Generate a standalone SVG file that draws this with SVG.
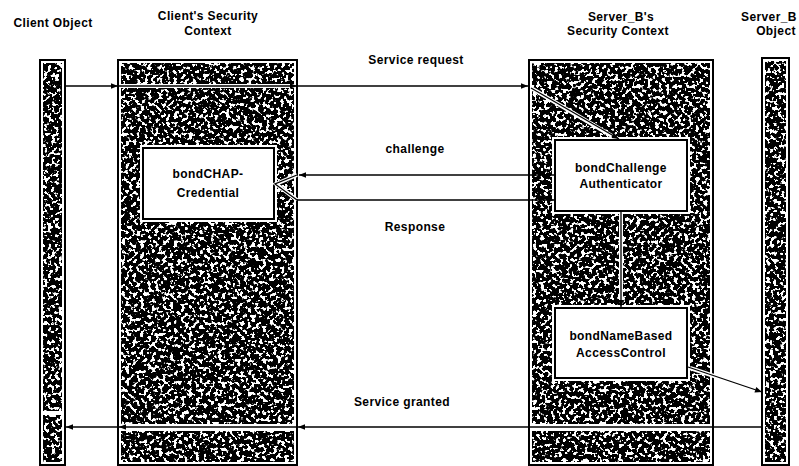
<svg xmlns="http://www.w3.org/2000/svg" width="799" height="466" viewBox="0 0 799 466">
  <style>
    .lbl{font-family:"Liberation Sans",Arial,sans-serif;font-size:12px;font-weight:bold;letter-spacing:0.4px;fill:#000;text-anchor:middle}
    .frame{fill:#fff;stroke:#000;stroke-width:2}
    .grain{fill:#000;filter:url(#grain)}
    .box{fill:#fff;stroke:#000;stroke-width:2}
    .boxhalo{fill:#fff;stroke:none}
    .halo{fill:none;stroke:#fff;stroke-width:4}
    .wire{fill:none;stroke:#000;stroke-width:1.3}
  </style>
  <defs>
    <!-- speckled black/white texture used inside the lifeline bars -->
    <filter id="grain" x="0" y="0" width="1" height="1" color-interpolation-filters="sRGB">
      <feTurbulence type="fractalNoise" baseFrequency="0.27" numOctaves="2" seed="7" result="n"/>
      <feColorMatrix in="n" type="matrix" values="0 0 0 0 1  0 0 0 0 1  0 0 0 0 1  22 0 0 0 -12.1" result="w"/>
      <feComposite in="w" in2="SourceAlpha" operator="in" result="wc"/>
      <feMerge><feMergeNode in="SourceGraphic"/><feMergeNode in="wc"/></feMerge>
    </filter>
    <marker id="ah" viewBox="0 0 10 10" refX="10" refY="5" markerWidth="8" markerHeight="7" markerUnits="userSpaceOnUse" orient="auto">
      <path d="M0,1 L10,5 L0,9 z" fill="#000"/>
    </marker>
  </defs>

  <!-- headings -->
  <g id="headings">
    <text class="lbl" x="53" y="27">Client Object</text>
    <text class="lbl" x="208" y="20">Client's Security</text>
    <text class="lbl" x="208" y="35">Context</text>
    <text class="lbl" x="621" y="21">Server_B's</text>
    <text class="lbl" x="618" y="35">Security Context</text>
    <text class="lbl" x="741" y="21" style="text-anchor:start">Server_B</text>
    <text class="lbl" x="776" y="35">Object</text>
  </g>

  <!-- lifeline bars -->
  <g id="client-object">
    <rect class="frame" x="40" y="60" width="25" height="405"/>
    <rect class="grain" x="43" y="63" width="19" height="348"/>
    <rect class="grain" x="43" y="415" width="19" height="47"/>
  </g>
  <g id="client-context">
    <rect class="frame" x="118" y="60" width="179" height="405"/>
    <rect class="grain" x="121" y="63" width="173" height="21"/>
    <rect class="grain" x="121" y="88" width="173" height="336"/>
    <rect class="grain" x="121" y="431" width="173" height="31"/>
  </g>
  <g id="server-context">
    <rect class="frame" x="529" y="60" width="184" height="405"/>
    <rect class="grain" x="532" y="63" width="178" height="361"/>
    <rect class="grain" x="532" y="431" width="178" height="31"/>
  </g>
  <g id="server-object">
    <rect class="frame" x="762" y="58" width="27" height="407"/>
    <rect class="grain" x="765" y="61" width="21" height="401"/>
  </g>

  <!-- components -->
  <g id="bondCHAP-Credential">
    <rect class="boxhalo" x="140" y="145" width="137" height="77"/>
    <rect class="box" x="143" y="148" width="131" height="71"/>
    <text class="lbl" x="208" y="178">bondCHAP-</text>
    <text class="lbl" x="208" y="197">Credential</text>
  </g>
  <g id="bondChallengeAuthenticator">
    <rect class="boxhalo" x="552" y="137" width="138" height="77"/>
    <rect class="box" x="555" y="140" width="132" height="71"/>
    <text class="lbl" x="621" y="172">bondChallenge</text>
    <text class="lbl" x="621" y="188">Authenticator</text>
  </g>
  <g id="bondNameBasedAccessControl">
    <rect class="boxhalo" x="552" y="305" width="138" height="76"/>
    <rect class="box" x="555" y="308" width="132" height="70"/>
    <text class="lbl" x="621" y="340">bondNameBased</text>
    <text class="lbl" x="621" y="357">AccessControl</text>
  </g>

  <!-- connectors -->
  <g id="connectors">
    <!-- white outlines behind lines that cross the texture -->
    <g class="halo">
      <path d="M297,175 L276,184 L297,200"/>
      <path d="M531,88 L612,136"/>
      <path d="M621,214 L621,303"/>
      <path d="M690,368 L756,390"/>
      <path d="M121,86 L294,86"/>
    </g>
    <!-- Service request -->
    <path class="wire" d="M65,86 L118,86" marker-end="url(#ah)"/>
    <path class="wire" d="M118,86 L297,86" marker-end="url(#ah)"/>
    <path class="wire" d="M297,86 L528,86" marker-end="url(#ah)"/>
    <path class="wire" d="M531,88 L619,139" marker-end="url(#ah)"/>
    <!-- challenge / Response -->
    <path class="wire" d="M554,175 L299,175" marker-end="url(#ah)"/>
    <path class="wire" d="M297,175 L275,184 L297,200"/>
    <path class="wire" d="M297,200 L554,200" marker-end="url(#ah)"/>
    <!-- authenticator to access control -->
    <path class="wire" d="M621,212 L621,307" marker-end="url(#ah)"/>
    <!-- access control to Server_B object -->
    <path class="wire" d="M688,367 L762,392" marker-end="url(#ah)"/>
    <!-- Service granted -->
    <path class="wire" d="M762,427 L298,427" marker-end="url(#ah)"/>
    <path class="wire" d="M297,427 L119,427" marker-end="url(#ah)"/>
    <path class="wire" d="M118,427 L66,427" marker-end="url(#ah)"/>
  </g>

  <!-- message labels -->
  <g id="message-labels">
    <text class="lbl" x="416" y="64">Service request</text>
    <text class="lbl" x="415" y="153">challenge</text>
    <text class="lbl" x="415" y="231">Response</text>
    <text class="lbl" x="402" y="406">Service granted</text>
  </g>
</svg>
